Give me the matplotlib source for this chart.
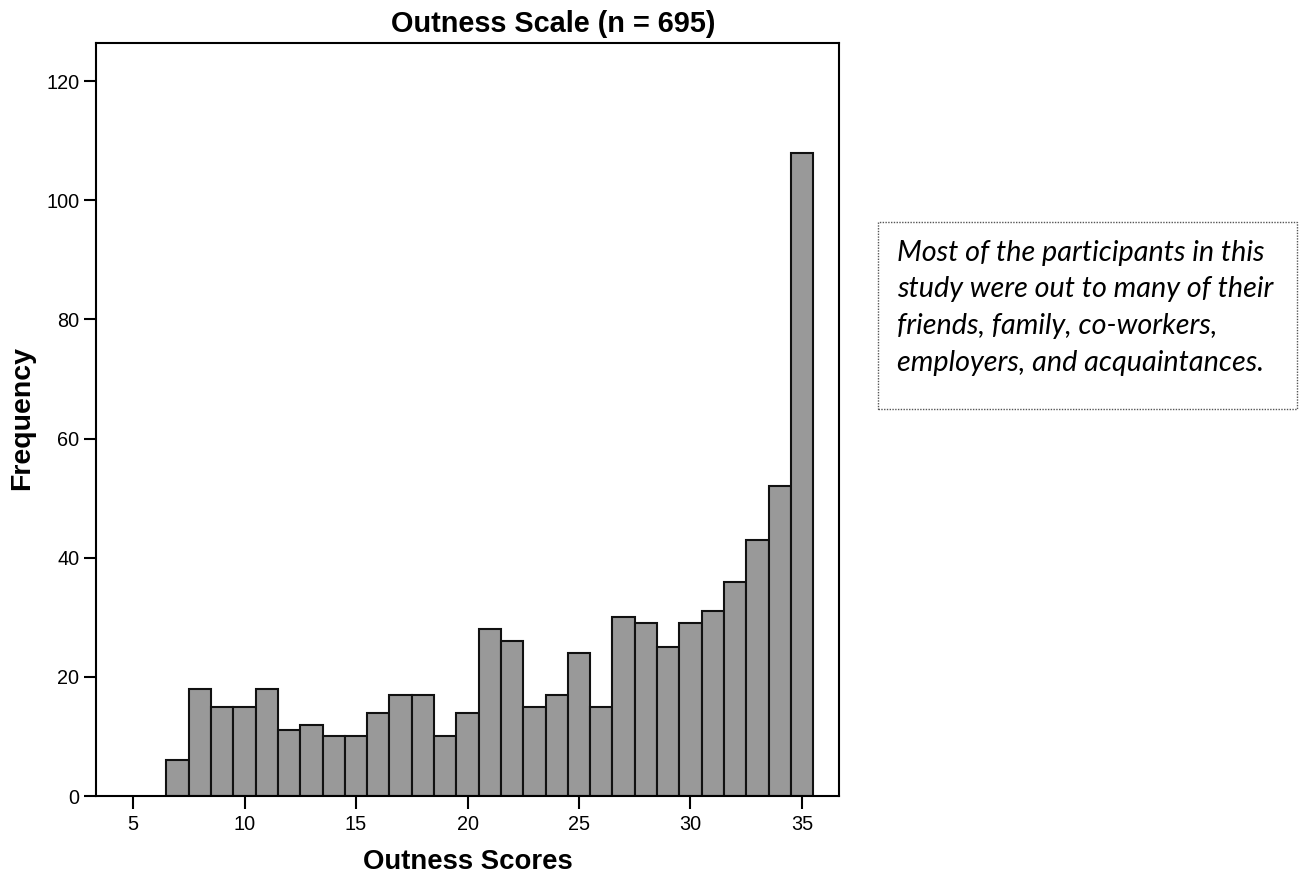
import matplotlib
matplotlib.use("Agg")
import matplotlib.pyplot as plt
from matplotlib.patches import Rectangle

# frequency of each outness score (7..35), n = 695
scores = list(range(7, 36))
freq = [6, 18, 15, 15, 18, 11, 12, 10, 10, 14, 17, 17, 10, 14, 28,
        26, 15, 17, 24, 15, 30, 29, 25, 29, 31, 36, 43, 52, 108]
xticks = [5, 10, 15, 20, 25, 30, 35]
yticks = [0, 20, 40, 60, 80, 100, 120]
note_lines = ["Most of the participants in this",
              "study were out to many of their",
              "friends, family, co-workers,",
              "employers, and acquaintances."]

plt.rcParams.update({
    "font.family": "Liberation Sans",
    "axes.linewidth": 1.5,
    "xtick.major.width": 1.5,
    "ytick.major.width": 1.5,
    "xtick.major.size": 9,
    "ytick.major.size": 9,
})

W, H = 1301, 875
fig = plt.figure(figsize=(W / 100, H / 100), dpi=100)
ax = fig.add_axes([96 / W, 1 - 796 / H, (839 - 96) / W, (796 - 43) / H])

ax.bar(scores, freq, width=1.0, color="#999999", edgecolor="#111111", linewidth=1.5)
ax.set_xlim(3.34, 36.66)
ax.set_ylim(0, 126.4)
ax.set_xticks(xticks)
ax.set_yticks(yticks)
ax.tick_params(labelsize=14.3, pad=3)
ax.tick_params(axis="x", pad=5)

fig.text(553 / W, 1 - 24 / H, "Outness Scale (n = 695)", ha="center", va="center",
         fontsize=20.8, fontweight="bold")
fig.text(22 / W, 1 - 418 / H, "Frequency", ha="center", va="center", rotation=90,
         fontsize=20.5, fontweight="bold")
fig.text(468 / W, 1 - 862 / H, "Outness Scores", ha="center", va="center",
         fontsize=19.8, fontweight="bold")

# annotation box
fig.patches.append(Rectangle((878 / W, 1 - 409 / H), (1297 - 878) / W, (409 - 222) / H,
                             transform=fig.transFigure, fill=False, edgecolor="#555555",
                             linewidth=1, linestyle=(0, (1, 1))))
for i, line in enumerate(note_lines):
    fig.text(897 / W, 1 - (253 + i * 36.5) / H, line, ha="left", va="center",
             fontsize=20.7, style="italic", family="Lato")

fig.savefig("out.png", dpi=100, facecolor="white")
